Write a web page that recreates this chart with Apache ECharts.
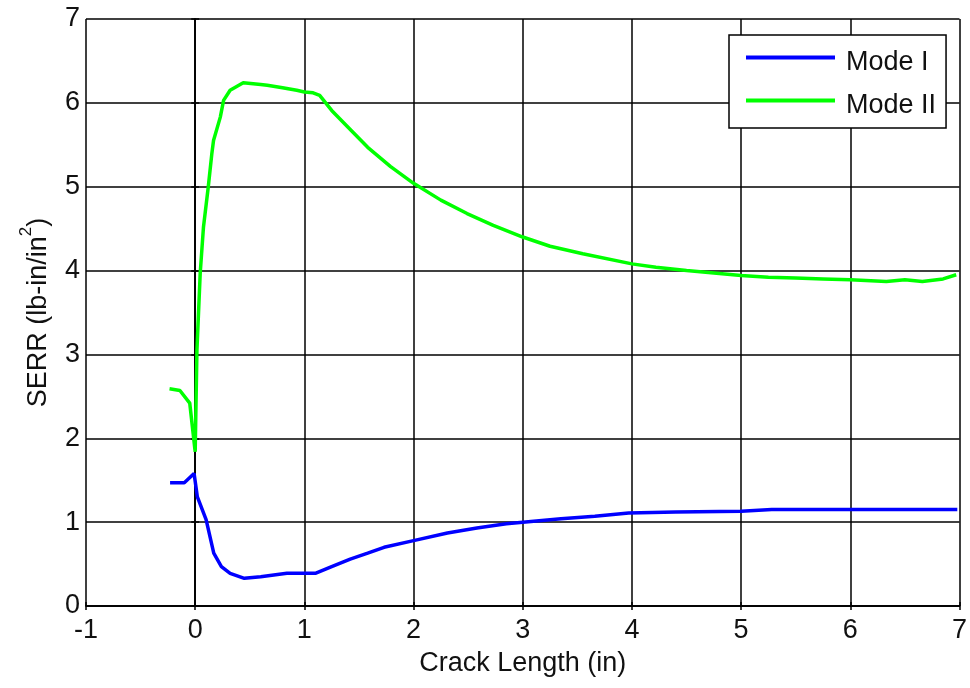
<!DOCTYPE html>
<html>
<head>
<meta charset="utf-8">
<script src="https://cdn.jsdelivr.net/npm/echarts@6/dist/echarts.min.js"></script>
<style>
html,body{margin:0;padding:0;background:#fff;}
#chart{width:970px;height:688px;}
</style>
</head>
<body>
<div id="chart"></div>
<script>
// Data
var modeIX = [-0.23,-0.10,-0.01,0.02,0.10,0.17,0.24,0.32,0.45,0.60,0.84,1.00,1.10,1.25,1.42,1.58,1.73,2.00,2.31,2.58,2.85,3.00,3.35,3.66,3.97,4.40,5.00,5.28,6.00,6.50,6.98];
var modeIY = [1.47,1.47,1.58,1.30,1.03,0.63,0.47,0.39,0.33,0.35,0.39,0.39,0.39,0.47,0.56,0.63,0.70,0.78,0.87,0.93,0.98,1.00,1.04,1.07,1.11,1.12,1.13,1.15,1.15,1.15,1.15];

var modeIIX = [-0.235,-0.14,-0.05,0.0,0.016,0.046,0.076,0.12,0.153,0.168,0.23,0.26,0.32,0.44,0.60,0.66,0.80,0.93,1.00,1.08,1.14,1.25,1.40,1.58,1.79,2.00,2.25,2.49,2.73,3.00,3.25,3.55,4.00,4.22,4.50,4.75,5.00,5.25,5.50,5.75,6.00,6.33,6.50,6.66,6.85,6.97];
var modeIIY = [2.59,2.57,2.42,1.84,3.05,3.97,4.52,5.00,5.40,5.55,5.83,6.03,6.15,6.24,6.22,6.21,6.18,6.15,6.13,6.12,6.09,5.91,5.71,5.47,5.24,5.04,4.84,4.68,4.54,4.40,4.29,4.20,4.08,4.04,4.00,3.97,3.94,3.92,3.91,3.90,3.89,3.87,3.89,3.87,3.90,3.95];

var seriesNames = ['Mode I', 'Mode II'];
var xTicks = {min: -1, max: 7, interval: 1};
var yTicks = {min: 0, max: 7, interval: 1};
var xTitle = 'Crack Length (in)';

function pairs(xs, ys){ var r=[]; for(var i=0;i<xs.length;i++) r.push([xs[i], ys[i]]); return r; }

var chart = echarts.init(document.getElementById('chart'), null, {renderer:'canvas'});
var FONT = '"Liberation Sans", Arial, sans-serif';
var TXT = '#111';
var lineBlack = {show:true, lineStyle:{color:'#000', width:1.5}};
var option = {
  animation: false,
  backgroundColor: '#fff',
  grid: {left: 86, right: 10, top: 19, bottom: 82, containLabel: false},
  legend: {
    data: seriesNames,
    orient: 'vertical',
    left: 729, top: 35,
    padding: [4, 10, 9, 17],
    backgroundColor: '#fff',
    borderColor: '#000', borderWidth: 1.5, borderRadius: 0,
    icon: 'rect', itemWidth: 89, itemHeight: 4, itemGap: 6,
    formatter: function(n){ return '{t|' + n + '}'; },
    textStyle: {fontFamily: FONT, fontSize: 27, color: TXT,
      rich: {t: {fontFamily: FONT, fontSize: 27, color: TXT, lineHeight: 30, padding: [10, 0, 0, 6]}}}
  },
  xAxis: [{
    type: 'value', position: 'bottom',
    min: xTicks.min, max: xTicks.max, interval: xTicks.interval,
    name: xTitle, nameLocation: 'middle', nameGap: 44,
    nameTextStyle: {fontFamily: FONT, fontSize: 27, color: TXT},
    axisLine: lineBlack,
    axisTick: {show: true, inside: true, length: 4, lineStyle:{color:'#000', width:1.5}},
    axisLabel: {fontFamily: FONT, fontSize: 27, color: TXT, margin: 11},
    splitLine: {show: true, lineStyle: {color: '#000', width: 1.5}}
  }, {
    type: 'value', position: 'top',
    min: xTicks.min, max: xTicks.max, interval: xTicks.interval,
    axisLine: lineBlack,
    axisTick: {show: true, inside: true, length: 4, lineStyle:{color:'#000', width:1.5}},
    axisLabel: {show: false}, splitLine: {show: false}
  }],
  yAxis: [{
    type: 'value', position: 'left',
    min: yTicks.min, max: yTicks.max, interval: yTicks.interval,
    name: '{a|SERR (lb-in/in}{s|2}{a|)}', nameLocation: 'middle', nameGap: 34, nameRotate: 90,
    nameTextStyle: {fontFamily: FONT, fontSize: 27, color: TXT,
      rich: {a: {fontFamily: FONT, fontSize: 27, color: TXT, lineHeight: 34, verticalAlign: 'bottom'},
             s: {fontFamily: FONT, fontSize: 17, color: TXT, lineHeight: 34, verticalAlign: 'top'}}},
    axisLine: lineBlack,
    axisTick: {show: true, inside: true, length: 4, lineStyle:{color:'#000', width:1.5}},
    axisLabel: {fontFamily: FONT, fontSize: 27, color: TXT, margin: 6},
    splitLine: {show: true, lineStyle: {color: '#000', width: 1.5}}
  }, {
    type: 'value', position: 'right',
    min: yTicks.min, max: yTicks.max, interval: yTicks.interval,
    axisLine: lineBlack,
    axisTick: {show: true, inside: true, length: 4, lineStyle:{color:'#000', width:1.5}},
    axisLabel: {show: false}, splitLine: {show: false}
  }],
  series: [{
    name: seriesNames[0], type: 'line', xAxisIndex: 0, yAxisIndex: 0,
    data: pairs(modeIX, modeIY), showSymbol: false, symbol: 'none',
    color: '#0000ff', lineStyle: {color: '#0000ff', width: 3.5}, z: 5
  }, {
    name: seriesNames[1], type: 'line', xAxisIndex: 0, yAxisIndex: 0,
    data: pairs(modeIIX, modeIIY), showSymbol: false, symbol: 'none',
    color: '#00ff00', lineStyle: {color: '#00ff00', width: 3.5}, z: 5
  }]
};
chart.setOption(option);
</script>
</body>
</html>
